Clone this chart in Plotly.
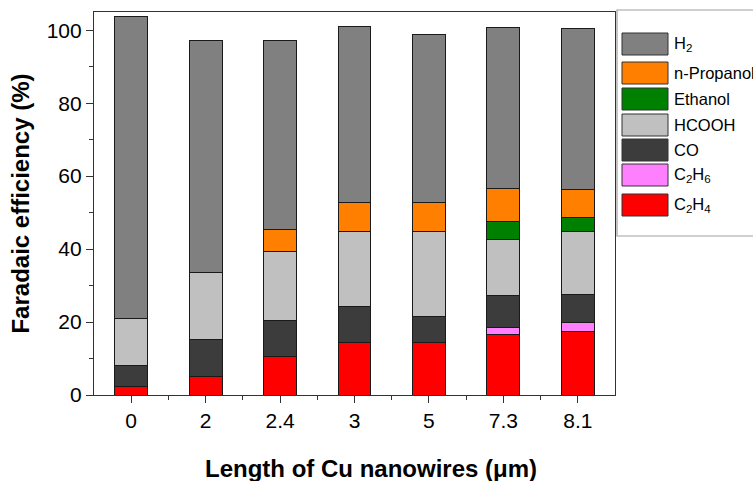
import plotly.graph_objects as go

categories = ["0", "2", "2.4", "3", "5", "7.3", "8.1"]
c2h4 = [2.2, 5.2, 10.5, 14.3, 14.5, 16.6, 17.4]
c2h6 = [0, 0, 0, 0, 0, 2.0, 2.4]
co = [6.0, 9.9, 10.0, 10.0, 7.0, 8.7, 7.7]
hcooh = [12.7, 18.4, 18.8, 20.5, 23.3, 15.4, 17.3]
ethanol = [0, 0, 0, 0, 0, 4.9, 3.8]
npropanol = [0, 0, 6.0, 7.9, 8.1, 8.9, 7.8]
h2 = [82.9, 63.6, 51.9, 48.4, 45.8, 44.3, 44.1]

series = [
    ("C<sub>2</sub>H<sub>4</sub>", c2h4, "#ff0000"),
    ("C<sub>2</sub>H<sub>6</sub>", c2h6, "#ff80ff"),
    ("CO", co, "#3c3c3c"),
    ("HCOOH", hcooh, "#c0c0c0"),
    ("Ethanol", ethanol, "#008000"),
    ("n-Propanol", npropanol, "#ff8000"),
    ("H<sub>2</sub>", h2, "#808080"),
]

FONT = "Arial, 'Liberation Sans', sans-serif"
fig = go.Figure()
for name, vals, col in series:
    fig.add_trace(go.Bar(x=categories, y=vals, name=name, width=0.44,
                         marker=dict(color=col, line=dict(color="#1a1a1a", width=1)),
                         showlegend=False))

# invisible trace to host the boundary (minor) ticks axis
fig.add_trace(go.Scatter(x=[-0.5, 6.5], y=[None, None], xaxis="x2", yaxis="y",
                         mode="lines", showlegend=False, hoverinfo="skip"))

fig.update_layout(
    width=753, height=481,
    margin=dict(l=94, r=138, t=12, b=86, autoexpand=False),
    paper_bgcolor="white", plot_bgcolor="white",
    barmode="stack",
    font=dict(family=FONT, color="black"),
    xaxis=dict(type="category", range=[-0.5, 6.5], showline=True, linecolor="#333",
               linewidth=1.2, mirror=True, ticks="outside", ticklen=7, tickcolor="#333",
               tickfont=dict(size=21), showgrid=False),
    xaxis2=dict(overlaying="x", range=[-0.5, 6.5], tickvals=[0.5, 1.5, 2.5, 3.5, 4.5, 5.5],
                showticklabels=False, ticks="outside", ticklen=4, tickcolor="#333",
                showgrid=False, zeroline=False, side="bottom", anchor="y"),
    yaxis=dict(range=[0, 105], showline=True, linecolor="#333", linewidth=1.2, mirror=True,
               ticks="outside", ticklen=7, tickcolor="#333", tickvals=[0, 20, 40, 60, 80, 100],
               minor=dict(tickvals=[10, 30, 50, 70, 90], ticks="outside", ticklen=4,
                          tickcolor="#333"),
               tickfont=dict(size=21), showgrid=False, zeroline=False,
               title=dict(text="<b>Faradaic efficiency (%)</b>", font=dict(size=24),
                          standoff=10)),
)

def px_x(p):
    return (p - 94) / 521.0

def px_y(p):
    return (395 - p) / 383.0

fig.add_annotation(xref="paper", yref="paper", x=px_x(371), y=px_y(468),
                   text="<b>Length of Cu nanowires (μm)</b>", showarrow=False,
                   xanchor="center", yanchor="middle", font=dict(size=24, color="black"))

# legend box (drawn manually to match the large swatches)
fig.add_shape(type="rect", xref="paper", yref="paper", x0=px_x(617), x1=px_x(770),
              y0=px_y(236), y1=px_y(10), line=dict(color="#a0a0a0", width=1.2),
              fillcolor="white", layer="above")
legend_rows = [("H<sub>2</sub>", "#808080", 44), ("n-Propanol", "#ff8000", 73),
               ("Ethanol", "#008000", 99), ("HCOOH", "#c0c0c0", 125),
               ("CO", "#3c3c3c", 150), ("C<sub>2</sub>H<sub>6</sub>", "#ff80ff", 175),
               ("C<sub>2</sub>H<sub>4</sub>", "#ff0000", 205)]
for name, col, yc in legend_rows:
    fig.add_shape(type="rect", xref="paper", yref="paper", x0=px_x(622), x1=px_x(668),
                  y0=px_y(yc + 11), y1=px_y(yc - 11), fillcolor=col,
                  line=dict(color="#333", width=1), layer="above")
    fig.add_annotation(xref="paper", yref="paper", x=px_x(672), y=px_y(yc),
                       text=name, showarrow=False, xanchor="left", yanchor="middle",
                       font=dict(size=16.5, color="black"))

fig.write_html("out.html", config={"displayModeBar": False},
               post_script="document.body.style.margin='0px';")
